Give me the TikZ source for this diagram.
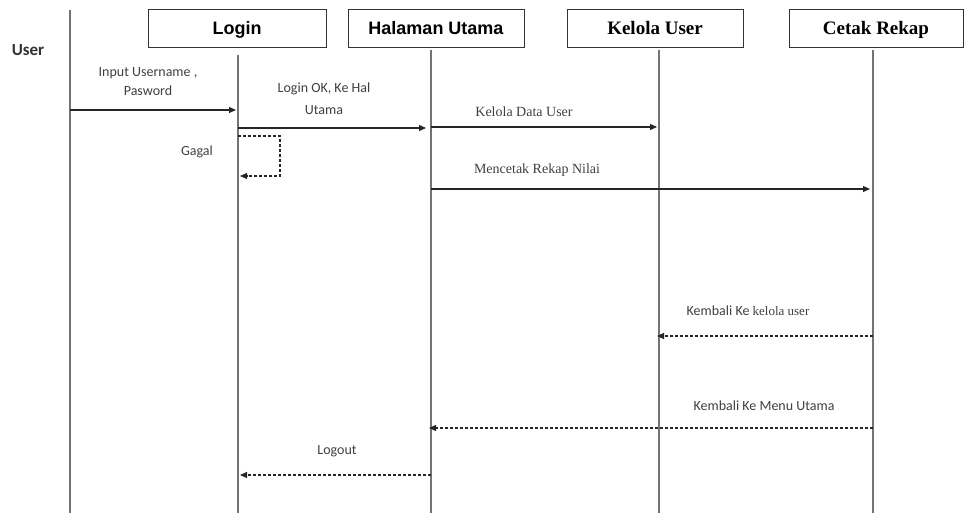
\documentclass[tikz,border=0pt]{standalone}
\usepackage{fontspec}
\setmainfont{Liberation Serif}
\newfontfamily\arialf{Liberation Sans}
\newfontfamily\calib{Carlito}
\usetikzlibrary{arrows.meta}
\begin{document}
\begin{tikzpicture}[x=1pt,y=-1pt,
  objbox/.style={draw=black!80,line width=1pt,minimum height=38pt,inner sep=0pt,fill=white,
    text height=14pt,text depth=2pt},
  sansttl/.style={font=\arialf\bfseries\fontsize{18}{20}\selectfont},
  serifttl/.style={font=\bfseries\fontsize{19}{21}\selectfont},
  lifeline/.style={draw=black!55,line width=1.3pt},
  msg/.style={draw=black!85,line width=1.1pt,-{Triangle[length=7pt,width=6pt]}},
  retmsg/.style={msg,dash pattern=on 3pt off 2pt},
  lbl/.style={font=\calib\fontsize{14}{19}\selectfont,text=black!75,align=center,inner sep=0pt},
  slbl/.style={font=\fontsize{14}{16}\selectfont,text=black!75,inner sep=0pt}]
\useasboundingbox (0,0) rectangle (964,513);
\fill[white] (0,0) rectangle (964,513);

% actor and objects
\node[font=\calib\bfseries\fontsize{17}{19}\selectfont,text=black!80] (user) at (28,50) {User};
\node[objbox,sansttl,minimum width=178pt] (login) at (237,29) {Login};
\node[objbox,sansttl,minimum width=176pt] (main) at (436,29) {Halaman Utama};
\node[objbox,serifttl,minimum width=176pt] (kelola) at (655,29) {Kelola User};
\node[objbox,serifttl,minimum width=174pt] (cetak) at (876,29) {Cetak Rekap};

% lifelines
\coordinate (uTop) at (70,10);   \coordinate (uBot) at (70,513);
\coordinate (lTop) at (238,55);  \coordinate (lBot) at (238,513);
\coordinate (mTop) at (431,50);  \coordinate (mBot) at (431,513);
\coordinate (kTop) at (659,50);  \coordinate (kBot) at (659,513);
\coordinate (cTop) at (873,50);  \coordinate (cBot) at (873,513);
\foreach \a/\b in {uTop/uBot,lTop/lBot,mTop/mBot,kTop/kBot,cTop/cBot}
  \draw[lifeline] (\a) -- (\b);

% message anchor points
\coordinate (m1s) at (70,110);  \coordinate (m1e) at (236,110);
\coordinate (m2s) at (238,128); \coordinate (m2e) at (426,128);
\coordinate (g1) at (238,136);  \coordinate (g2) at (280,136);
\coordinate (g3) at (280,176);  \coordinate (g4) at (240,176);
\coordinate (m3s) at (431,127); \coordinate (m3e) at (657,127);
\coordinate (m4s) at (431,189); \coordinate (m4e) at (870,189);
\coordinate (r1s) at (873,336); \coordinate (r1e) at (657,336);
\coordinate (r2s) at (873,428); \coordinate (r2e) at (429,428);
\coordinate (r3s) at (431,475); \coordinate (r3e) at (240,475);

% calls
\draw[msg] (m1s) -- (m1e);
\draw[msg] (m2s) -- (m2e);
\draw[msg] (m3s) -- (m3e);
\draw[msg] (m4s) -- (m4e);
\draw[retmsg] (g1) -- (g2) -- (g3) -- (g4);

% returns
\draw[retmsg] (r1s) -- (r1e);
\draw[retmsg] (r2s) -- (r2e);
\draw[retmsg] (r3s) -- (r3e);

% labels
\node[lbl] (t1) at (148,82) {Input Username ,\\Pasword};
\node[lbl,font=\calib\fontsize{14}{22}\selectfont] (t2) at (324,99) {Login OK, Ke Hal\\Utama};
\node[lbl] (t3) at (197,152) {Gagal};
\node[slbl] (t4) at (524,112) {Kelola Data User};
\node[slbl] (t5) at (537,170) {Mencetak Rekap Nilai};
\node[lbl] (t6) at (748,311) {Kembali Ke {\rmfamily\fontsize{13}{15}\selectfont kelola user}};
\node[lbl] (t7) at (764,406) {Kembali Ke Menu Utama};
\node[lbl] (t8) at (337,451) {Logout};
\end{tikzpicture}
\end{document}
